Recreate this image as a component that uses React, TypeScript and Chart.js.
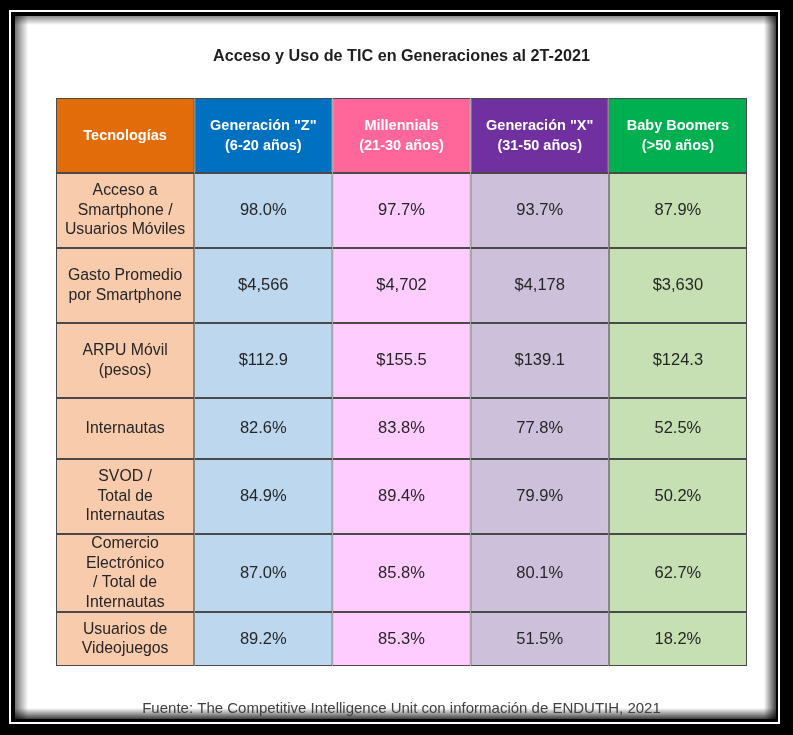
import { useEffect, useRef } from "react";
import { Chart, registerables } from "chart.js";

Chart.register(...registerables);

// ---------- data ----------
const chartTitle = "Acceso y Uso de TIC en Generaciones al 2T-2021";
const sourceNote = "Fuente: The Competitive Intelligence Unit con información de ENDUTIH, 2021";
const cornerLabel = "Tecnologías";
const generations = [
  'Generación "Z"\n(6-20 años)',
  "Millennials\n(21-30 años)",
  'Generación "X"\n(31-50 años)',
  "Baby Boomers\n(>50 años)",
];
const technologies = [
  "Acceso a\nSmartphone /\nUsuarios Móviles",
  "Gasto Promedio\npor Smartphone",
  "ARPU Móvil\n(pesos)",
  "Internautas",
  "SVOD /\nTotal de\nInternautas",
  "Comercio\nElectrónico\n/ Total de\nInternautas",
  "Usuarios de\nVideojuegos",
];
const valueFormats = ["pct", "money0", "money1", "pct", "pct", "pct", "pct"];
const generacionZ = [98.0, 4566, 112.9, 82.6, 84.9, 87.0, 89.2];
const millennials = [97.7, 4702, 155.5, 83.8, 89.4, 85.8, 85.3];
const generacionX = [93.7, 4178, 139.1, 77.8, 79.9, 80.1, 51.5];
const babyBoomers = [87.9, 3630, 124.3, 52.5, 50.2, 62.7, 18.2];
const seriesValues = [generacionZ, millennials, generacionX, babyBoomers];

// ---------- layout / style ----------
const W = 793;
const H = 735;
const rowSpans = [75, 75, 75, 75, 61, 75, 78, 54]; // header + 7 rows
const headerColors = ["#E36C0A", "#0070C0", "#FF6699", "#7030A0", "#00B050"];
const bodyColors = ["#F8CBAD", "#BDD7EE", "#FFCCFF", "#CCC0DA", "#C6E0B4"];
const FONT = "'Liberation Sans', Arial, sans-serif";

function formatValue(v: number, fmt: string): string {
  if (fmt === "pct") return v.toFixed(1) + "%";
  if (fmt === "money0") return "$" + v.toLocaleString("en-US", { maximumFractionDigits: 0 });
  return "$" + v.toFixed(1);
}

const framePlugin = {
  id: "frame",
  beforeDraw(chart: any) {
    const ctx = chart.ctx;
    ctx.save();
    ctx.fillStyle = "#000";
    ctx.fillRect(0, 0, W, H);
    ctx.strokeStyle = "#fff";
    ctx.lineWidth = 2;
    ctx.strokeRect(10, 11, 769, 712);
    const x0 = 15, y0 = 16, x1 = 776, y1 = 719;
    ctx.fillStyle = "#fff";
    ctx.fillRect(x0, y0, x1 - x0, y1 - y0);
    let g = ctx.createLinearGradient(x0, 0, x0 + 13, 0);
    g.addColorStop(0, "rgba(0,0,0,0.55)");
    g.addColorStop(1, "rgba(0,0,0,0)");
    ctx.fillStyle = g;
    ctx.fillRect(x0, y0, 13, y1 - y0);
    g = ctx.createLinearGradient(0, y0, 0, y0 + 9);
    g.addColorStop(0, "rgba(0,0,0,0.45)");
    g.addColorStop(1, "rgba(0,0,0,0)");
    ctx.fillStyle = g;
    ctx.fillRect(x0, y0, x1 - x0, 9);
    g = ctx.createLinearGradient(x1, 0, x1 - 12, 0);
    g.addColorStop(0, "rgba(0,0,0,0.75)");
    g.addColorStop(1, "rgba(0,0,0,0)");
    ctx.fillStyle = g;
    ctx.fillRect(x1 - 12, y0, 12, y1 - y0);
    g = ctx.createLinearGradient(0, y1, 0, y1 - 11);
    g.addColorStop(0, "rgba(0,0,0,0.75)");
    g.addColorStop(1, "rgba(0,0,0,0)");
    ctx.fillStyle = g;
    ctx.fillRect(x0, y1 - 11, x1 - x0, 11);
    ctx.restore();
  },
};

const cellTextPlugin = {
  id: "cellText",
  afterDatasetsDraw(chart: any) {
    const ctx = chart.ctx;
    ctx.save();
    ctx.textAlign = "center";
    ctx.textBaseline = "middle";
    chart.data.datasets.forEach((_ds: any, r: number) => {
      const meta = chart.getDatasetMeta(r);
      meta.data.forEach((el: any, c: number) => {
        const cx = el.x;
        const cy = (el.y + el.base) / 2;
        let text: string;
        let lh: number;
        if (r === 0) {
          text = c === 0 ? cornerLabel : generations[c - 1];
          ctx.font = `bold 14.5px ${FONT}`;
          ctx.fillStyle = "#ffffff";
          lh = 20;
        } else if (c === 0) {
          text = technologies[r - 1];
          ctx.font = `15.8px ${FONT}`;
          ctx.fillStyle = "#262626";
          lh = 19.6;
        } else {
          text = formatValue(seriesValues[c - 1][r - 1], valueFormats[r - 1]);
          ctx.font = `16.5px ${FONT}`;
          ctx.fillStyle = "#262626";
          lh = 19.6;
        }
        const lines = text.split("\n");
        const top = cy - ((lines.length - 1) * lh) / 2;
        lines.forEach((ln, i) => ctx.fillText(ln, cx, top + i * lh));
      });
    });
    ctx.restore();
  },
};

export default function App() {
  const ref = useRef<HTMLCanvasElement | null>(null);
  useEffect(() => {
    document.body.style.margin = "0";
    const canvas = ref.current;
    if (!canvas) return;
    const columns = [cornerLabel, ...generations];
    let acc = 0;
    const datasets = rowSpans.map((span, r) => {
      const start = acc;
      acc += span;
      return {
        label: r === 0 ? "header" : technologies[r - 1],
        data: columns.map(() => [start, start + span]),
        backgroundColor: r === 0 ? headerColors : bodyColors,
        borderColor: "#4a4a4a",
        borderWidth: 1,
        borderSkipped: false,
        inflateAmount: 0,
        grouped: false,
        categoryPercentage: 1,
        barPercentage: 1,
      };
    });
    const total = acc;
    const chart = new Chart(canvas, {
      type: "bar",
      data: { labels: columns, datasets: datasets as any },
      options: {
        responsive: false,
        animation: false,
        devicePixelRatio: 1,
        events: [],
        layout: { padding: { left: 56, right: 46, top: 0, bottom: 0 } },
        scales: {
          x: { type: "category", offset: true, display: false, grid: { display: false } },
          y: { type: "linear", min: 0, max: total, reverse: true, display: false, grid: { display: false } },
        },
        plugins: {
          legend: { display: false },
          tooltip: { enabled: false },
          title: {
            display: true,
            text: chartTitle,
            color: "#1f1f1f",
            font: { family: FONT, size: 16.2, weight: "bold" },
            padding: { top: 47, bottom: 31.6 },
          },
          subtitle: {
            display: true,
            position: "bottom",
            text: sourceNote,
            color: "#404040",
            font: { family: FONT, size: 15, weight: "normal" },
            padding: { top: 34, bottom: 17 },
          },
        },
      } as any,
      plugins: [framePlugin, cellTextPlugin],
    });
    return () => chart.destroy();
  }, []);
  return <canvas ref={ref} width={W} height={H} style={{ display: "block" }} />;
}
